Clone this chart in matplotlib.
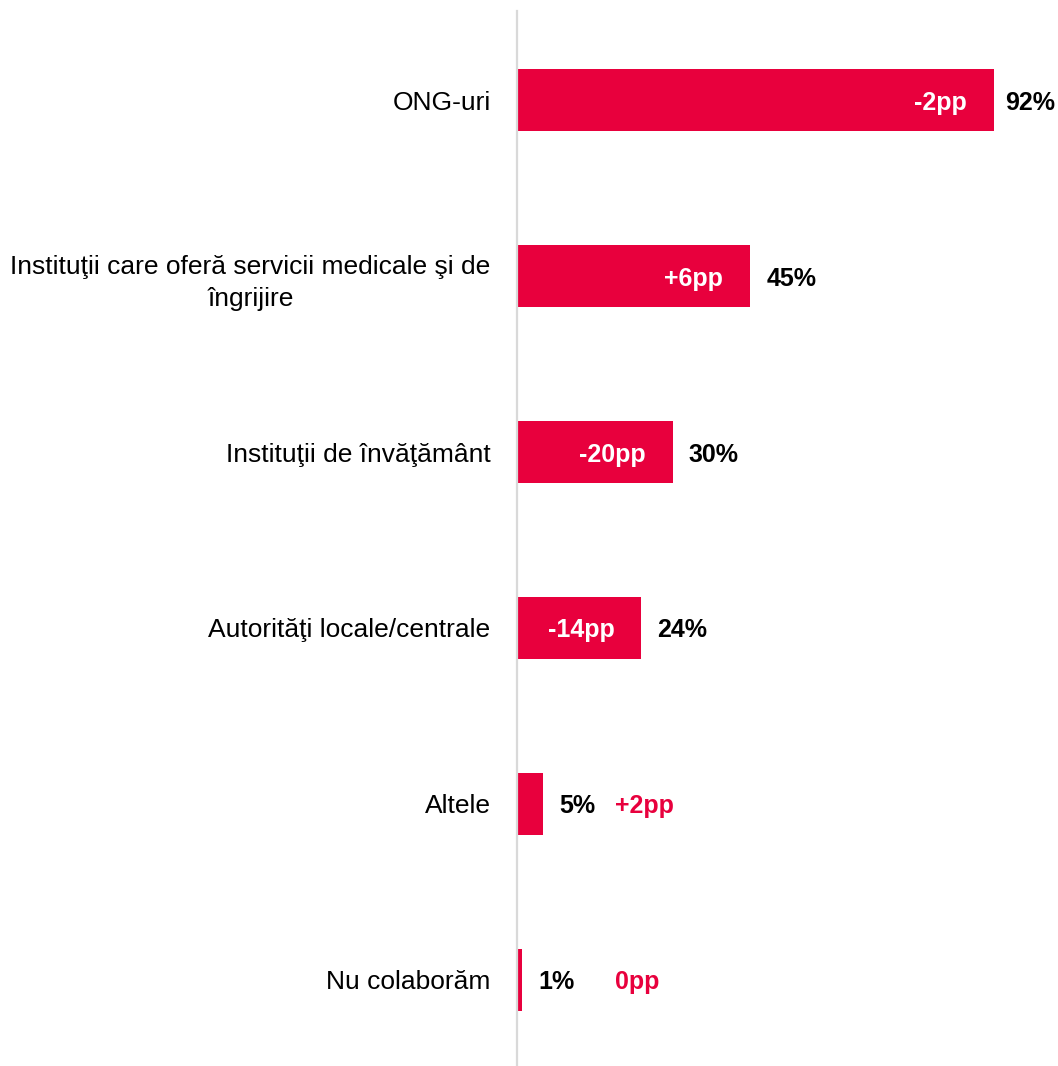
import matplotlib
matplotlib.use("Agg")
import matplotlib.pyplot as plt
from matplotlib import font_manager

# Data
categories = [
    "ONG-uri",
    "Instituţii care oferă servicii medicale şi de\nîngrijire",
    "Instituţii de învăţământ",
    "Autorităţi locale/centrale",
    "Altele",
    "Nu colaborăm",
]
values = [92, 45, 30, 24, 5, 1]
changes = ["-2pp", "+6pp", "-20pp", "-14pp", "+2pp", "0pp"]

RED = "#E8003D"
names = {f.name for f in font_manager.fontManager.ttflist}
FAMILY = ["Liberation Sans Narrow", "DejaVu Sans"] if "Liberation Sans Narrow" in names else ["Liberation Sans", "DejaVu Sans"]
plt.rcParams["font.family"] = FAMILY

fig = plt.figure(figsize=(10.58, 10.66), dpi=100)
ax = fig.add_axes([517 / 1058, 0.0, 541 / 1058, 1 - 11 / 1066])

px_per_unit = 477 / 92
xmax = 541 / px_per_unit
ypos = list(range(len(categories)))
ax.barh(ypos, values, height=0.352, color=RED, zorder=2)
ax.set_xlim(0, xmax)
ax.set_ylim(len(categories) - 1 + 0.489, -0.506)

for s in ["top", "right", "bottom"]:
    ax.spines[s].set_visible(False)
ax.spines["left"].set_color("#d9d9d9")
ax.spines["left"].set_linewidth(1.6)
ax.set_xticks([])
ax.set_yticks(ypos)
ax.set_yticklabels(categories, fontsize=19, multialignment="center", linespacing=1.45)
ax.tick_params(axis="y", length=0, pad=19)

fs = 18
for i, (v, c) in enumerate(zip(values, changes)):
    vx = v + 16 / px_per_unit
    vx = min(vx, xmax - 53 / px_per_unit)
    ax.text(vx, i, f"{v}%", ha="left", va="center_baseline", fontsize=fs,
            fontweight="bold", color="black")
    if v >= 20:
        ax.text(v - 27 / px_per_unit, i, c, ha="right", va="center_baseline", fontsize=fs,
                fontweight="bold", color="white")
    else:
        ax.text(98 / px_per_unit, i, c, ha="left", va="center_baseline", fontsize=fs,
                fontweight="bold", color=RED)

fig.savefig("out.png", dpi=100)
